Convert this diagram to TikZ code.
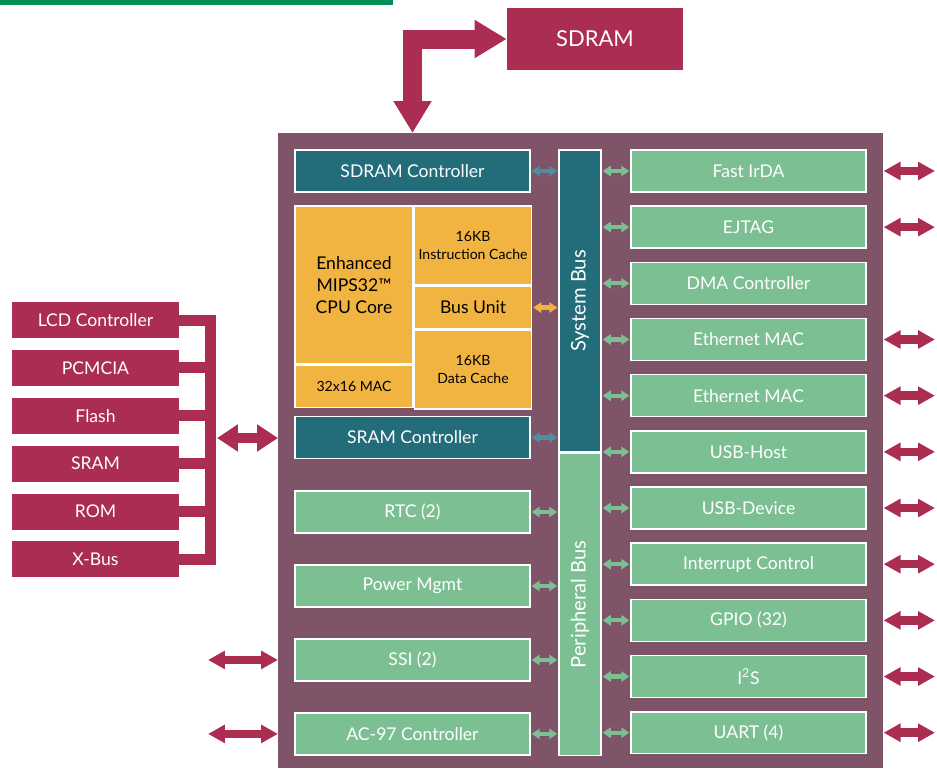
\documentclass[tikz,border=0pt]{standalone}
\usepackage{fontspec}
\setmainfont{Lato}
\usetikzlibrary{arrows.meta,positioning}

\definecolor{extred}{HTML}{AB2D52}
\definecolor{chipbg}{HTML}{7F5468}
\definecolor{busteal}{HTML}{236C7A}
\definecolor{linkteal}{HTML}{4E8E9E}
\definecolor{perigreen}{HTML}{7BBF93}
\definecolor{coreorange}{HTML}{F2B440}
\definecolor{topgreen}{HTML}{008D55}

\newcommand\boxfont{\fontsize{10}{12.5}\selectfont}
\newcommand\cachefont{\fontsize{8}{10}\selectfont}
\newcommand\titlefont{\fontsize{12.5}{15}\selectfont}
\newcommand\busfont{\fontsize{11.5}{14}\selectfont}

\tikzset{
    blk/.style={draw=white,line width=0.9pt,inner sep=1pt,align=center,font=\boxfont},
    pbox/.style={blk,fill=perigreen,text=white,minimum width=4.7cm,minimum height=0.84cm},
    ctrlbox/.style={blk,fill=busteal,text=white,minimum width=4.7cm,minimum height=0.84cm},
    corebox/.style={blk,fill=coreorange,text=black},
    busbox/.style={blk,text=white,font=\busfont,minimum width=0.84cm,minimum height=6.04cm},
    extbox/.style={fill=extred,text=white,inner sep=1pt,font=\boxfont,minimum width=3.34cm,minimum height=0.72cm},
    link/.style={line width=2.4pt,shorten <=0.5pt,shorten >=0.5pt,
        arrows={Triangle[width=5.8pt,length=4.6pt]-Triangle[width=5.8pt,length=4.6pt]}},
    pin/.style={draw=extred,line width=0.17cm,
        arrows={Triangle[width=0.35cm,length=0.34cm]-Triangle[width=0.35cm,length=0.34cm]}},
    membus/.style={draw=extred,line width=0.22cm},
    memlink/.style={draw=extred,line width=0.2cm,shorten <=0.14cm,
        arrows={Triangle[width=0.52cm,length=0.42cm]-Triangle[width=0.52cm,length=0.42cm]}},
    sdlink/.style={draw=extred,line width=0.38cm,
        arrows={Triangle[width=0.72cm,length=0.64cm]-Triangle[width=0.72cm,length=0.64cm]}}
}

\begin{document}
\begin{tikzpicture}[x=0.02cm,y=-0.02cm,node distance=0.252cm]
    \useasboundingbox (0,0) rectangle (937,768);
    \fill[topgreen] (0,0) rectangle (393,5);

    \node[fill=chipbg,inner sep=0pt,minimum width=12.1cm,minimum height=12.7cm,anchor=north west] (chip) at (278,133) {};
    \node[extbox,minimum width=3.52cm,minimum height=1.24cm,font=\titlefont] (sdram) at (595,39) {SDRAM};

    % left column inside the chip
    \node[ctrlbox] (sdc) at (412.5,171) {SDRAM Controller};
    \node[corebox,minimum width=2.36cm,minimum height=3.16cm] (cpu) at (354,285) {Enhanced\\MIPS32\texttrademark\\CPU Core};
    \node[corebox,minimum width=2.36cm,minimum height=0.84cm,font=\cachefont] (mac) [below=0pt of cpu] {32x16 MAC};
    \node[corebox,minimum width=2.34cm,minimum height=1.58cm,font=\cachefont,anchor=north west] (icache) at (cpu.north east) {16KB\\Instruction Cache};
    \node[corebox,minimum width=2.34cm,minimum height=0.84cm] (biu) [below=0pt of icache] {Bus Unit};
    \node[corebox,minimum width=2.34cm,minimum height=1.58cm,font=\cachefont] (dcache) [below=0pt of biu] {16KB\\Data Cache};
    \node[ctrlbox] (sramc) at (412.5,437.5) {SRAM Controller};
    \node[pbox] (rtc) at (412.5,512) {RTC (2)};
    \node[pbox] (pwr) [below=0.608cm of rtc] {Power Mgmt};
    \node[pbox] (ssi) [below=0.608cm of pwr] {SSI (2)};
    \node[pbox] (ac)  [below=0.608cm of ssi] {AC-97 Controller};

    % buses
    \node[busbox,fill=busteal] (sysbus) at (580,301) {\rotatebox{90}{System Bus}};
    \node[busbox,fill=perigreen] (pbus) [below=0pt of sysbus] {\rotatebox{90}{Peripheral Bus}};

    % right column
    \node[pbox] (fir)   at (748.5,171) {Fast IrDA};
    \node[pbox] (ejtag) [below=of fir]   {EJTAG};
    \node[pbox] (dma)   [below=of ejtag] {DMA Controller};
    \node[pbox] (ethA)  [below=of dma]   {Ethernet MAC};
    \node[pbox] (ethB)  [below=of ethA]  {Ethernet MAC};
    \node[pbox] (usbh)  [below=of ethB]  {USB-Host};
    \node[pbox] (usbd)  [below=of usbh]  {USB-Device};
    \node[pbox] (irq)   [below=of usbd]  {Interrupt Control};
    \node[pbox] (gpio)  [below=of irq]   {GPIO (32)};
    \node[pbox] (iis)   [below=of gpio]  {I\textsuperscript{2}S};
    \node[pbox] (uart)  [below=of iis]   {UART (4)};

    % external memories
    \node[extbox] (lcd) at (95.5,320) {LCD Controller};
    \node[extbox] (pcmcia) [below=0.224cm of lcd]    {PCMCIA};
    \node[extbox] (flash)  [below=0.224cm of pcmcia] {Flash};
    \node[extbox] (sram)   [below=0.224cm of flash]  {SRAM};
    \node[extbox] (rom)    [below=0.224cm of sram]   {ROM};
    \node[extbox] (xbus)   [below=0.224cm of rom]    {X-Bus};

    \coordinate (mbus) at (210,438);
    \coordinate (padl) at (208,0);
    \coordinate (padr) at (935,0);

    \draw[sdlink] (sdram.west) -| (sdc.north |- chip.north);
    \draw[membus] (lcd.east) -| (mbus) |- (xbus.east);
    \foreach \n in {pcmcia,flash,sram,rom}
        \draw[membus] (\n.east) -- (\n.east -| mbus);
    \draw[memlink] (mbus) -- (chip.west |- mbus);

    \draw[link,draw=linkteal] (sdc.east) -- (sdc.east -| sysbus.west);
    \draw[link,draw=coreorange] (biu.east) -- (biu.east -| sysbus.west);
    \draw[link,draw=linkteal] (sramc.east) -- (sramc.east -| sysbus.west);
    \foreach \n in {rtc,pwr,ssi,ac}
        \draw[link,draw=perigreen] (\n.east) -- (\n.east -| pbus.west);
    \foreach \n in {fir,ejtag,dma,ethA,ethB,usbh}
        \draw[link,draw=perigreen] (\n.west -| sysbus.east) -- (\n.west);
    \foreach \n in {usbd,irq,gpio,iis,uart}
        \draw[link,draw=perigreen] (\n.west -| pbus.east) -- (\n.west);

    \foreach \n in {fir,ejtag,ethA,ethB,usbh,usbd,irq,gpio,iis,uart}
        \draw[pin] (chip.east |- \n.east) -- (padr |- \n.east);
    \foreach \n in {ssi,ac}
        \draw[pin] (padl |- \n.west) -- (chip.west |- \n.west);
\end{tikzpicture}
\end{document}
